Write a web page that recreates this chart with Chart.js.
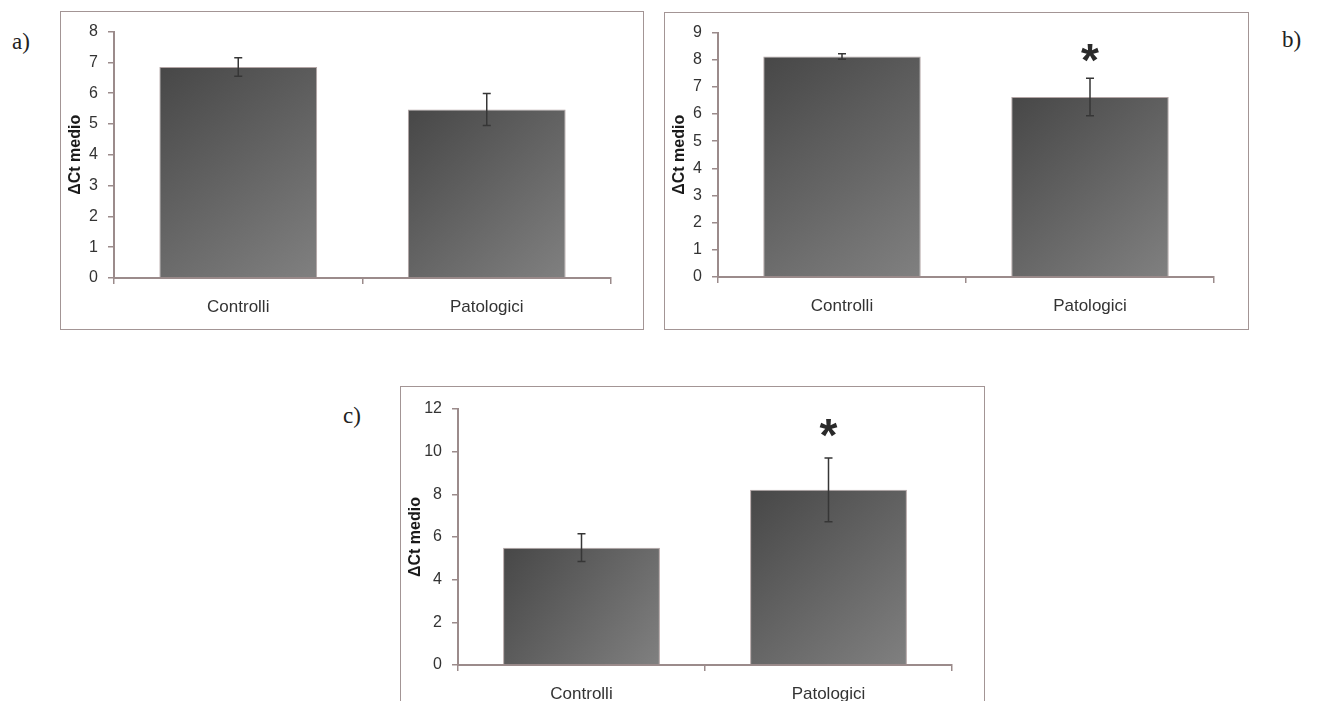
<!DOCTYPE html>
<html>
<head>
<meta charset="utf-8">
<script src="https://cdn.jsdelivr.net/npm/chart.js@4.4.1/dist/chart.umd.min.js"></script>
<style>
  html, body { margin: 0; padding: 0; background: #fff; overflow: hidden; }
  body { width: 1318px; height: 701px; position: relative; }
  .panel { position: absolute; border: 1px solid #a39595; background: #fff; }
  .panel canvas { display: block; }
  .tag { position: absolute; font-family: 'Liberation Serif', 'Times New Roman', serif; font-size: 23px; color: #222; line-height: 1; }
</style>
</head>
<body>
<div class="tag" style="left:12px; top:30px;">a)</div>
<div class="tag" style="left:1282px; top:28px;">b)</div>
<div class="tag" style="left:343px; top:404px;">c)</div>

<div class="panel" style="left:60px; top:11px; width:582px; height:317px;"><canvas id="chartA"></canvas></div>
<div class="panel" style="left:664px; top:12px; width:583px; height:316px;"><canvas id="chartB"></canvas></div>
<div class="panel" style="left:400px; top:386px; width:583px; height:316px;"><canvas id="chartC"></canvas></div>

<script>
// categorie comuni
var categories = ['Controlli', 'Patologici'];

// a)
var meansA = [6.85, 5.47];
var errA   = [0.30, 0.52];
var starsA = ['', ''];
var ticksA = { min: 0, max: 8, step: 1 };

// b)
var meansB = [8.12, 6.63];
var errB   = [0.10, 0.69];
var starsB = ['', '*'];
var ticksB = { min: 0, max: 9, step: 1 };

// c)
var meansC = [5.50, 8.21];
var errC   = [0.65, 1.49];
var starsC = ['', '*'];
var ticksC = { min: 0, max: 12, step: 2 };

var AXIS = '#9b8b8b';
var BAR_PCT = 0.635;
Chart.defaults.font.family = "'Liberation Sans', Arial, sans-serif";
Chart.defaults.color = '#333';

// barre di errore + asterischi
var errorBars = {
    id: 'errorBars',
    afterDatasetsDraw: function(chart, args, opts) {
        var ctx = chart.ctx, y = chart.scales.y;
        var meta = chart.getDatasetMeta(0);
        var vals = chart.data.datasets[0].data;
        ctx.save();
        ctx.strokeStyle = '#363636';
        ctx.lineWidth = 1.5;
        meta.data.forEach(function(bar, i) {
            var e = opts.errors[i];
            var yt = y.getPixelForValue(vals[i] + e), yb = y.getPixelForValue(vals[i] - e);
            ctx.beginPath();
            ctx.moveTo(bar.x, yt); ctx.lineTo(bar.x, yb);
            ctx.moveTo(bar.x - 4, yt); ctx.lineTo(bar.x + 4, yt);
            ctx.moveTo(bar.x - 4, yb); ctx.lineTo(bar.x + 4, yb);
            ctx.stroke();
            var s = opts.stars[i];
            if (s) {
                ctx.fillStyle = '#2a2a2a';
                ctx.font = "bold 46px 'Liberation Sans', Arial, sans-serif";
                ctx.textAlign = 'center';
                ctx.textBaseline = 'alphabetic';
                var m = ctx.measureText(s);
                var cy = yt - opts.starGap;
                var base = cy + (m.actualBoundingBoxAscent - m.actualBoundingBoxDescent) / 2;
                ctx.fillText(s, bar.x, base);
            }
        });
        ctx.restore();
    }
};

function barFill(c) {
    var ch = c.chart, x = ch.scales.x, y = ch.scales.y;
    if (!ch.chartArea || !x || !y || !x.width) return '#5f5f5f';
    var cx = x.getPixelForValue(c.dataIndex);
    var half = x.width / ch.data.labels.length * BAR_PCT / 2;
    var top = y.getPixelForValue(c.raw), bot = y.getPixelForValue(0);
    var g = ch.ctx.createLinearGradient(cx - half, top, cx + half, bot);
    g.addColorStop(0, '#474747');
    g.addColorStop(1, '#808080');
    return g;
}

function makeChart(id, means, errs, stars, tk, cfg) {
    return new Chart(document.getElementById(id), {
        type: 'bar',
        data: {
            labels: categories,
            datasets: [{ data: means, backgroundColor: barFill, borderColor: '#b3a5a5', borderWidth: 1,
                categoryPercentage: 1, barPercentage: BAR_PCT }]
        },
        options: {
            responsive: true, maintainAspectRatio: false, animation: false,
            layout: { padding: { left: 0, right: cfg.right, top: cfg.top, bottom: 0 } },
            plugins: { legend: { display: false }, tooltip: { enabled: false },
                errorBars: { errors: errs, stars: stars, starGap: cfg.starGap } },
            scales: {
                x: {
                    offset: true,
                    grid: { offset: true, drawOnChartArea: false, tickLength: 6, color: AXIS, lineWidth: 1.5 },
                    border: { color: AXIS, width: 2 },
                    ticks: { font: { size: 17 }, color: '#333', padding: 13 },
                    afterFit: function(s) { s.height = cfg.xh; }
                },
                y: {
                    min: tk.min, max: tk.max,
                    grid: { drawOnChartArea: false, tickLength: 6, color: AXIS, lineWidth: 1.5 },
                    border: { color: AXIS, width: 2 },
                    ticks: { stepSize: tk.step, font: { size: 16 }, color: '#333', padding: 10 },
                    title: { display: true, text: 'ΔCt medio', color: '#1a1a1a',
                        font: { size: 16, weight: 'bold' }, padding: { top: 5, bottom: 0 } },
                    afterFit: function(s) { s.width = cfg.yw; }
                }
            }
        },
        plugins: [errorBars]
    });
}

makeChart('chartA', meansA, errA, starsA, ticksA, { yw: 53, xh: 51, right: 32, top: 11, starGap: 26 });
makeChart('chartB', meansB, errB, starsB, ticksB, { yw: 53, xh: 52, right: 34, top: 9, starGap: 25 });
makeChart('chartC', meansC, errC, starsC, ticksC, { yw: 57, xh: 38, right: 32, top: 22, starGap: 30 });
</script>
</body>
</html>
